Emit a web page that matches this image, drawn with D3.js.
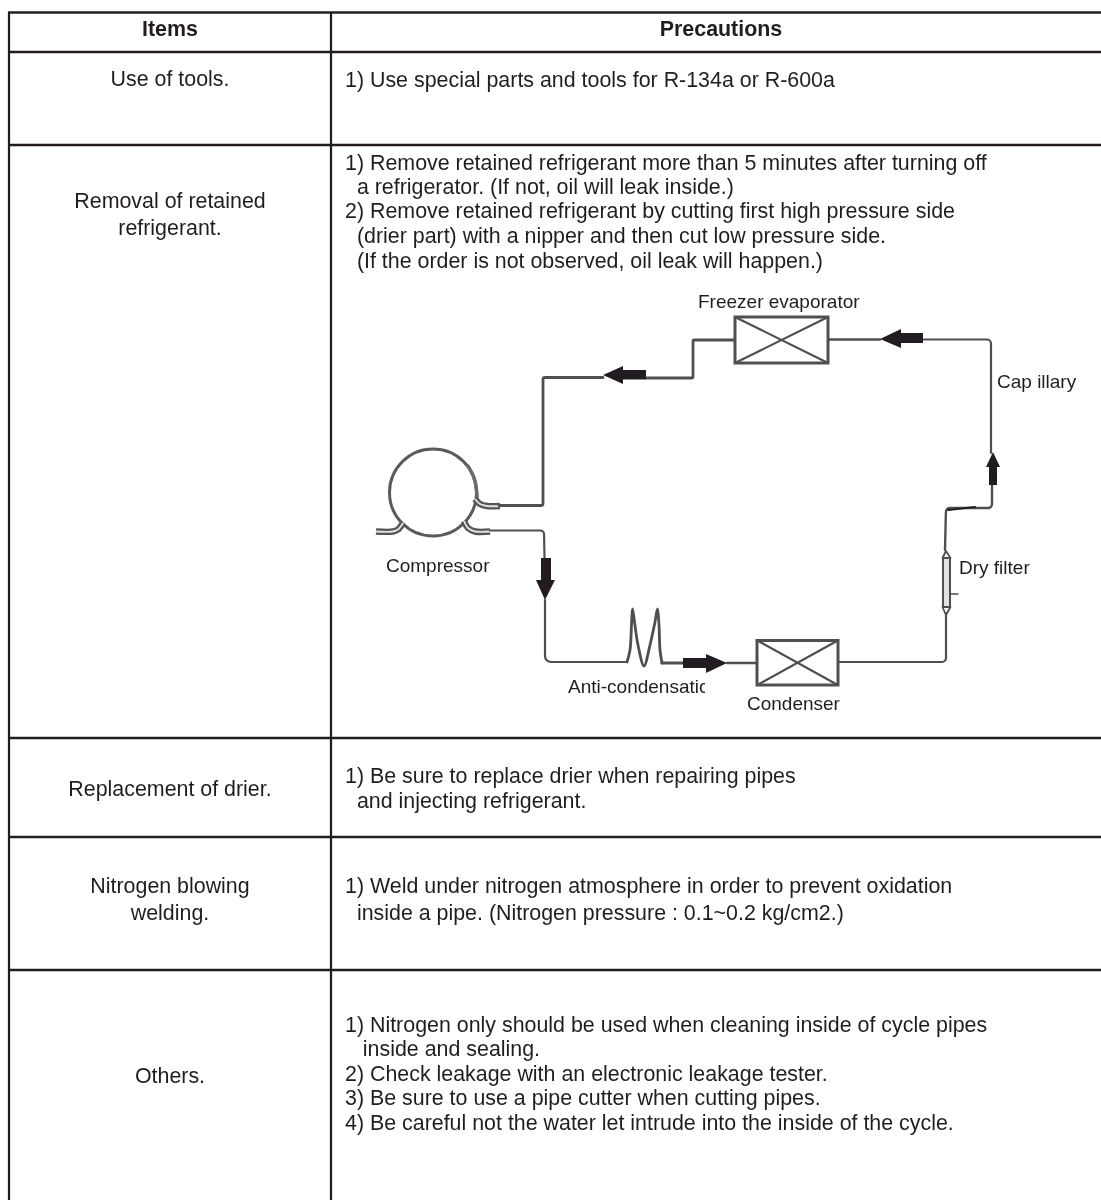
<!DOCTYPE html>
<html>
<head>
<meta charset="utf-8">
<style>
html, body { margin: 0; padding: 0; background: #fff; }
svg { display: block; }
</style>
<script src="https://cdn.jsdelivr.net/npm/d3@7"></script>
</head>
<body>
<div id="chart"></div>
<script>
// Table content
var headers = ['Items', 'Precautions'];
var items = [
    ['Use of tools.'],
    ['Removal of retained', 'refrigerant.'],
    ['Replacement of drier.'],
    ['Nitrogen blowing', 'welding.'],
    ['Others.']
];
var precautions = [
    ['1) Use special parts and tools for R-134a or R-600a'],
    ['1) Remove retained refrigerant more than 5 minutes after turning off',
     '  a refrigerator. (If not, oil will leak inside.)',
     '2) Remove retained refrigerant by cutting first high pressure side',
     '  (drier part) with a nipper and then cut low pressure side.',
     '  (If the order is not observed, oil leak will happen.)'],
    ['1) Be sure to replace drier when repairing pipes',
     '  and injecting refrigerant.'],
    ['1) Weld under nitrogen atmosphere in order to prevent oxidation',
     '  inside a pipe. (Nitrogen pressure : 0.1~0.2 kg/cm2.)'],
    ['1) Nitrogen only should be used when cleaning inside of cycle pipes',
     '   inside and sealing.',
     '2) Check leakage with an electronic leakage tester.',
     '3) Be sure to use a pipe cutter when cutting pipes.',
     '4) Be careful not the water let intrude into the inside of the cycle.']
];
var diagramLabels = ['Freezer evaporator', 'Cap illary', 'Compressor', 'Dry filter', 'Anti-condensation', 'Condenser'];

var w = 1101;
var h = 1200;
var ink = '#231f20';
var pipe = '#505050';
var font = '"Liberation Sans", Arial, sans-serif';

var root = d3.select('#chart').append('svg')
    .attr('width', w)
    .attr('height', h)
    .attr('viewBox', '0 0 ' + w + ' ' + h)
;

// the original is a scan, so everything is very slightly soft
root.append('filter')
    .attr('id', 'soft')
    .attr('filterUnits', 'userSpaceOnUse')
    .attr('x', 0)
    .attr('y', 0)
    .attr('width', w)
    .attr('height', h)
    .append('feGaussianBlur')
    .attr('stdDeviation', 0.35)
;
var svg = root.append('g').attr('filter', 'url(#soft)');

// Table rules
var rowLines = [12.5, 52, 145, 738, 837, 970];
var colLines = [9, 331];

svg.selectAll('line.row')
    .data(rowLines)
    .enter()
    .append('line')
    .attr('class', 'row')
    .attr('x1', 8)
    .attr('x2', w)
    .attr('y1', function (d) { return d; })
    .attr('y2', function (d) { return d; })
    .attr('stroke', ink)
    .attr('stroke-width', 2.4)
;

svg.selectAll('line.col')
    .data(colLines)
    .enter()
    .append('line')
    .attr('class', 'col')
    .attr('x1', function (d) { return d; })
    .attr('x2', function (d) { return d; })
    .attr('y1', 12)
    .attr('y2', h)
    .attr('stroke', ink)
    .attr('stroke-width', 2.2)
;

// Text helper
function addText(x, y, str, opts) {
    opts = opts || {};
    return svg.append('text')
        .attr('x', x)
        .attr('y', y)
        .attr('text-anchor', opts.anchor || 'start')
        .attr('font-family', font)
        .attr('font-size', (opts.size || 21.4) + 'px')
        .attr('font-weight', opts.weight || 'normal')
        .attr('fill', ink)
        .style('white-space', 'pre')
        .text(str)
    ;
}

// Headers
addText(170, 36, headers[0], {anchor: 'middle', weight: 'bold'});
addText(721, 36, headers[1], {anchor: 'middle', weight: 'bold'});

// Items column
var itemBaselines = [[86], [208, 235], [796], [893, 920], [1083]];
items.forEach(function (lines, r) {
    lines.forEach(function (t, i) {
        addText(170, itemBaselines[r][i], t, {anchor: 'middle'});
    });
});

// Precautions column
var precautionBaselines = [
    [87],
    [170, 194, 218, 243, 268],
    [783, 808],
    [893, 920],
    [1032, 1056, 1081, 1105, 1130]
];
precautions.forEach(function (lines, r) {
    lines.forEach(function (t, i) {
        addText(345, precautionBaselines[r][i], t);
    });
});

// Refrigerant cycle diagram
var line = d3.line().curve(d3.curveLinear);
var soft = d3.line().curve(d3.curveCatmullRom.alpha(0.5));

function strokePath(d, width, color, cap) {
    svg.append('path')
        .attr('d', d)
        .attr('fill', 'none')
        .attr('stroke', color || pipe)
        .attr('stroke-width', width)
        .attr('stroke-linejoin', 'round')
        .attr('stroke-linecap', cap || 'round')
    ;
}

// polyline with small rounded elbows
function pipePath(pts, width, r) {
    var p = d3.path();
    p.moveTo(pts[0][0], pts[0][1]);
    for (var i = 1; i < pts.length - 1; i++) {
        p.arcTo(pts[i][0], pts[i][1], pts[i + 1][0], pts[i + 1][1], r === undefined ? 4 : r);
    }
    p.lineTo(pts[pts.length - 1][0], pts[pts.length - 1][1]);
    strokePath(p.toString(), width);
}

function blackShape(pts) {
    svg.append('path')
        .attr('d', line(pts) + 'Z')
        .attr('fill', ink)
    ;
}

// tube drawn as grey with a pale centre, like the compressor stubs
function tube(pts) {
    strokePath(soft(pts), 6.5, '#555', 'butt');
    strokePath(soft(pts), 1.8, '#e4e4e4', 'butt');
}

// Compressor
svg.append('circle')
    .attr('cx', 433)
    .attr('cy', 492.5)
    .attr('r', 43.5)
    .attr('fill', '#fff')
    .attr('stroke', '#5a5a5a')
    .attr('stroke-width', 3)
;
strokePath(soft([[468, 466], [474, 478], [477, 494], [477, 502]]), 3.4, '#6a6a6a');
tube([[475, 499], [480, 504], [487, 506], [500, 506]]);
tube([[464, 521], [468, 528], [475, 531.5], [490, 531.5]]);
tube([[403, 523], [398, 529.5], [393, 531.5], [376, 531.5]]);

// Pipes
pipePath([[499, 505.5], [543, 505.5], [543, 377.5], [603, 377.5]], 2.8, 2);
pipePath([[646, 378], [693, 378], [693, 340], [735, 340]], 2.8, 1);
pipePath([[828, 339.5], [880, 339.5]], 2.4);
pipePath([[923, 339.5], [991, 339.5], [991, 453]], 2.2);
pipePath([[992, 485], [992, 508], [946, 508], [945, 550]], 2.4);
strokePath(line([[948, 510], [975, 507]]), 2, ink);
pipePath([[946, 613], [946, 662], [838, 662]], 2.2);
pipePath([[490, 530.5], [544, 530.5], [544.5, 558]], 2.2);
pipePath([[545, 600], [545, 662], [627, 662]], 2.2, 6);
pipePath([[757, 663], [727, 663]], 2.4);
pipePath([[662, 663], [683, 663]], 3.2);

// Anti-condensation loop
strokePath(soft([[627, 662], [630, 650], [631.5, 625], [632.5, 609], [634.5, 622], [638, 645], [644, 666], [650, 645], [655, 622], [657.5, 609], [659, 625], [660, 650], [662, 663]]), 2.8);

// Heat exchanger boxes
var boxes = [
    {x: 735, y: 317, w: 93, h: 46},
    {x: 757, y: 640.5, w: 81, h: 44.5}
];
boxes.forEach(function (b) {
    svg.append('rect')
        .attr('x', b.x)
        .attr('y', b.y)
        .attr('width', b.w)
        .attr('height', b.h)
        .attr('fill', '#fff')
        .attr('stroke', pipe)
        .attr('stroke-width', 3)
    ;
    pipePath([[b.x + 2, b.y + 1], [b.x + b.w - 2, b.y + b.h - 1]], 2.2);
    pipePath([[b.x + b.w - 2, b.y + 1], [b.x + 2, b.y + b.h - 1]], 2.2);
});

// Arrows
blackShape([[603, 375], [623, 366], [623, 370], [646, 370], [646, 379.5], [623, 379.5], [623, 384]]);
blackShape([[880, 339], [901, 329], [901, 333], [923, 333], [923, 343], [901, 343], [901, 348]]);
blackShape([[993, 452], [1000, 467], [997, 467], [997, 485], [989, 485], [989, 467], [986, 467]]);
blackShape([[545, 600], [536, 580], [541, 580], [541, 558], [551, 558], [551, 580], [555, 580]]);
blackShape([[727, 663], [706, 654], [706, 658], [683, 658], [683, 668], [706, 668], [706, 673]]);

// Drier
svg.append('rect')
    .attr('x', 943)
    .attr('y', 558)
    .attr('width', 7)
    .attr('height', 49)
    .attr('fill', '#e2e2e2')
    .attr('stroke', pipe)
    .attr('stroke-width', 2)
;
strokePath(line([[946, 551], [942.5, 558], [950.5, 558]]) + 'Z', 1.8);
strokePath(line([[942.5, 607], [946, 615], [950.5, 607]]), 1.8);
strokePath(line([[950, 594], [958, 594]]), 1.4);

// Diagram labels, the anti-condensation one is cut off in the original
svg.append('clipPath')
    .attr('id', 'antiClip')
    .append('rect')
    .attr('x', 560)
    .attr('y', 670)
    .attr('width', 145)
    .attr('height', 40)
;
var labelPos = [[698, 308], [997, 388], [386, 572], [959, 574], [568, 693], [747, 710]];
diagramLabels.forEach(function (t, i) {
    var el = addText(labelPos[i][0], labelPos[i][1], t, {size: 19});
    if (t === 'Anti-condensation') {
        el.attr('clip-path', 'url(#antiClip)');
    }
});
</script>
</body>
</html>
